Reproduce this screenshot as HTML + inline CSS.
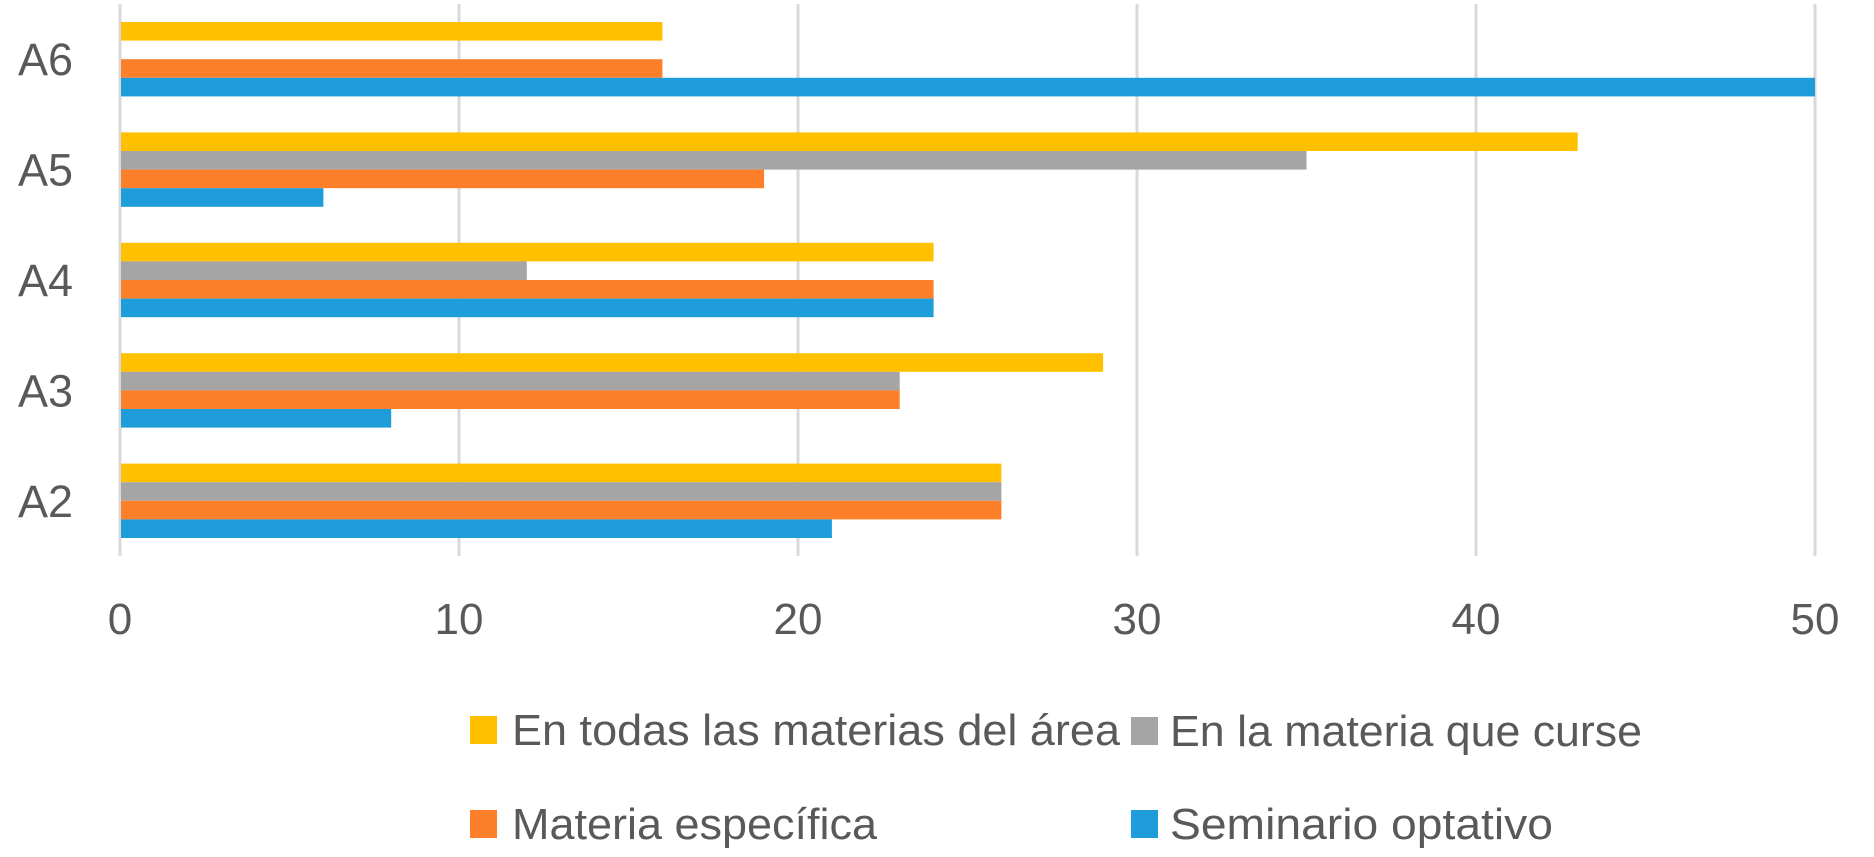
<!DOCTYPE html>
<html><head><meta charset="utf-8"><style>
html,body{margin:0;padding:0;background:#fff;}
svg{display:block;font-family:"Liberation Sans",sans-serif;}
</style></head><body>
<svg id="chart" width="1874" height="857" viewBox="0 0 1874 857" xmlns="http://www.w3.org/2000/svg">
<g id="grid"></g>
<g id="bars"></g>
<g id="ylabels"></g>
<g id="xlabels"></g>
<g id="legend"></g>
</svg>
<script>
const categories = ["A6","A5","A4","A3","A2"];
const seriesNames = ["En todas las materias del área","En la materia que curse","Materia específica","Seminario optativo"];
const todasValues = [16,43,24,29,26];
const cursesValues = [0,35,12,23,26];
const especificaValues = [16,19,24,23,26];
const seminarioValues = [50,6,24,8,21];
const xTicks = [0,10,20,30,40,50];

const colors = ["#FFC000","#A5A5A5","#FE7F2A","#1E9DDA"];
const series = [todasValues, cursesValues, especificaValues, seminarioValues];
const x0 = 120, x1 = 1815, plotTop = 4, plotBottom = 556;
const xMax = 50;
const xScale = v => x0 + v / xMax * (x1 - x0);
const band = (plotBottom - plotTop) / categories.length;
const barH = 18.6;
const NS = "http://www.w3.org/2000/svg";
function mk(tag, attrs, parent){const e=document.createElementNS(NS,tag);for(const k in attrs)e.setAttribute(k,attrs[k]);parent.appendChild(e);return e;}

const grid = document.getElementById('grid');
xTicks.forEach(t=>{
  const l = mk('line',{x1:xScale(t),x2:xScale(t),y1:plotTop,y2:plotBottom,stroke:'#D9D9D9','stroke-width':3},grid);
  
  
  const tx = mk('text',{x:xScale(t),y:634,'text-anchor':'middle','font-size':44,fill:'#595959'},document.getElementById('xlabels'));
  tx.textContent = t;
  
  
});

const bars = document.getElementById('bars');
categories.forEach((c,i)=>{
  const center = plotTop + band*(i+0.5);
  const gTop = center - barH*2;
  series.forEach((vals,s)=>{
    const v = vals[i];
    if(v<=0) return;
    const r = mk('rect',{x:xScale(0)+1,y:gTop+s*barH,width:xScale(v)-xScale(0)-1,height:barH,fill:colors[s]},bars);
    
    
  });
  const t = mk('text',{x:18,y:center+16,'font-size':45,fill:'#595959'},document.getElementById('ylabels'));
  t.textContent = c;
  
  
});

const legend = document.getElementById('legend');
const legPos = [[470,730,512,608],[1131,731,1170,472],[470,824,512,365],[1131,824,1170,383]];
seriesNames.forEach((n,s)=>{
  const p = legPos[s];
  const g = mk('g',{},legend);
  
  
  mk('rect',{x:p[0],y:p[1]-14,width:27,height:28,fill:colors[s]},g);
  const attrs = {x:p[2],y:p[1]+15,'font-size':44,fill:'#595959',textLength:p[3],lengthAdjust:'spacingAndGlyphs'};
  const t = mk('text',attrs,g);
  t.textContent = n;
});
</script>
</body></html>
